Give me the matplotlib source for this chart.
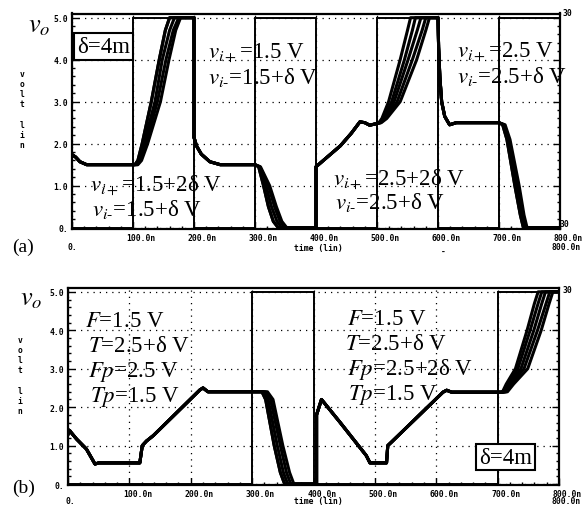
import matplotlib.pyplot as plt
from matplotlib.ticker import MultipleLocator

plt.rcParams['font.family'] = ['Liberation Serif', 'DejaVu Serif']
plt.rcParams['mathtext.fontset'] = 'stix'

W, H = 587, 510
MONO = dict(family='DejaVu Sans Mono', weight='bold', size=5.8)

# square-wave input, edges in ns and levels in V
sq_a_edges = [0, 100, 200, 300, 400, 500, 600, 700, 800]
sq_a_levels = [0, 5, 0, 5, 0, 5, 0, 5]
sq_b_edges = [0, 300, 400, 700, 800]
sq_b_levels = [0, 5, 0, 5]

# panel (a) output: held parts shared by all runs, transitions one row per run
a_hold0_t = [0, 6, 13, 24, 60, 100]
a_hold0_v = [1.74, 1.68, 1.57, 1.5, 1.5, 1.5]
a_rise1_v = [1.5, 1.6, 2.0, 3.0, 4.0, 4.7, 5.0]
a_rise1_t = [[103, 108, 115, 130, 143, 153, 160],
             [105, 110, 118, 136, 148, 160, 168],
             [107, 112, 121, 140, 154, 166, 175],
             [108, 114, 124, 145, 159, 170, 178]]
a_hold1_t = [200, 200, 204, 212, 226, 243, 300]
a_hold1_v = [5.0, 2.15, 1.95, 1.75, 1.57, 1.5, 1.5]
a_fall1_v = [1.45, 1.0, 0.5, 0.15, 0.0]
a_fall1_t = [[306, 314, 322, 330, 338],
             [307, 318, 327, 336, 344],
             [308, 322, 332, 341, 350],
             [309, 324, 335, 344, 352]]
a_hold2_t = [400, 400, 420, 440, 458, 472, 480, 488, 500]
a_hold2_v = [0.0, 1.45, 1.7, 1.95, 2.25, 2.52, 2.5, 2.44, 2.48]
a_rise2_v = [2.5, 2.6, 3.0, 4.0, 4.7, 5.0]
a_rise2_t = [[503, 508, 519, 538, 550, 555],
             [504, 510, 524, 545, 558, 563],
             [505, 512, 528, 551, 566, 572],
             [506, 514, 533, 558, 574, 580],
             [507, 516, 538, 565, 580, 586]]
a_hold3_t = [600, 601, 603, 606, 611, 619, 630, 700]
a_hold3_v = [5.0, 4.3, 3.6, 3.0, 2.65, 2.45, 2.5, 2.5]
a_fall2_v = [2.45, 2.1, 1.0, 0.3, 0.0]
a_fall2_t = [[706, 713, 726, 735, 740],
             [708, 715, 729, 738, 743],
             [710, 718, 733, 741, 746]]
a_end_t = [800]
a_end_v = [0.0]

# panel (b) output
b_hold0_t = [0, 2, 14, 30, 44, 50, 117, 121, 128, 139, 215, 220, 228, 316]
b_hold0_v = [1.3, 1.4, 1.17, 0.91, 0.52, 0.55, 0.55, 1.0, 1.12, 1.26, 2.45, 2.5, 2.4, 2.4]
b_fall_v = [2.4, 2.2, 1.0, 0.3, 0.0]
b_fall_t = [[316, 322, 336, 346, 353],
            [319, 326, 341, 351, 358],
            [322, 330, 346, 356, 363],
            [325, 334, 350, 361, 368]]
b_hold1_t = [405, 405, 413, 443, 486, 492, 519, 521, 527, 611, 617, 625, 708]
b_hold1_v = [0.0, 1.8, 2.2, 1.61, 0.74, 0.55, 0.55, 1.0, 1.09, 2.39, 2.44, 2.39, 2.39]
b_rise_v = [2.4, 2.6, 3.0, 4.0, 4.7, 5.0]
b_rise_t = [[708, 714, 729, 748, 760, 766],
            [710, 716, 733, 753, 766, 772],
            [712, 719, 738, 759, 772, 778],
            [714, 722, 743, 765, 779, 785],
            [716, 726, 749, 771, 784, 790]]
b_end_t = [800]
b_end_v = [5.0]

n_runs = 5

parts_a = [(a_hold0_t, a_hold0_v), (a_rise1_t, a_rise1_v), (a_hold1_t, a_hold1_v),
           (a_fall1_t, a_fall1_v), (a_hold2_t, a_hold2_v), (a_rise2_t, a_rise2_v),
           (a_hold3_t, a_hold3_v), (a_fall2_t, a_fall2_v), (a_end_t, a_end_v)]
parts_b = [(b_hold0_t, b_hold0_v), (b_fall_t, b_fall_v), (b_hold1_t, b_hold1_v),
           (b_rise_t, b_rise_v), (b_end_t, b_end_v)]


def run(parts, k):
    t, v = [], []
    for pt, pv in parts:
        if isinstance(pt[0], list):
            pt = pt[k % len(pt)]
        t += pt
        v += pv
    return t, v


def style(ax):
    ax.set_xlim(0, 800)
    ax.set_ylim(-0.02, 5.1)
    ax.xaxis.set_major_locator(MultipleLocator(100))
    ax.xaxis.set_minor_locator(MultipleLocator(20))
    ax.yaxis.set_major_locator(MultipleLocator(1))
    ax.yaxis.set_minor_locator(MultipleLocator(0.2))
    ax.tick_params(which='both', direction='in', left=True, right=True,
                   top=False, bottom=True, width=1, labelbottom=False, pad=3)
    ax.tick_params(which='major', length=5)
    ax.tick_params(which='minor', length=2.5)
    ax.set_yticks([0, 1, 2, 3, 4, 5])
    ax.set_yticklabels(['0.', '1.0', '2.0', '3.0', '4.0', '5.0'], **MONO)
    ax.grid(True, which='major', color='black', linestyle=(0, (1, 4)), lw=0.9)
    for s in ax.spines.values():
        s.set_linewidth(1.6)
    for t in range(100, 900, 100):
        ax.annotate(f'{t}.0n', xy=(t, 0), xycoords=('data', 'axes fraction'),
                    xytext=(6, -3), textcoords='offset points',
                    ha='center', va='top', **MONO)


def px(x, y):
    return x / W, 1 - y / H


fig = plt.figure(figsize=(W / 100, H / 100), dpi=100)
ax_a = fig.add_axes([72 / W, 1 - 229.5 / H, 488 / W, 215 / H])
ax_b = fig.add_axes([68 / W, 1 - 485.8 / H, 491 / W, 196.8 / H])

for ax, edges, levels, parts in [(ax_a, sq_a_edges, sq_a_levels, parts_a),
                                 (ax_b, sq_b_edges, sq_b_levels, parts_b)]:
    style(ax)
    ax.stairs(levels, edges, baseline=None, color='black', lw=1.4)
    for k in range(n_runs):
        t, v = run(parts, k)
        ax.plot(t, v, color='black', lw=2.2, solid_joinstyle='round')

fs = 16.5
box = dict(boxstyle='square,pad=0.12', fc='white', ec='black', lw=1.5)
vp = r'$v_{i+}$'
vm = r'$v_{i\text{-}}$'

# panel (a) annotations
ax_a.text(52, 4.32, 'δ=4m', fontsize=fs, ha='center', va='center', bbox=box)
ax_a.text(223, 4.04, vp + '=1.5 V', fontsize=fs)
ax_a.text(223, 3.45, vm + '=1.5+δ V', fontsize=fs)
ax_a.text(30, 0.87, vp + '=1.5+2δ V', fontsize=fs)
ax_a.text(33, 0.3, vm + '=1.5+δ V', fontsize=fs)
ax_a.text(428, 1.02, vp + '=2.5+2δ V', fontsize=fs)
ax_a.text(431, 0.48, vm + '=2.5+δ V', fontsize=fs)
ax_a.text(631, 4.06, vp + '=2.5 V', fontsize=fs)
ax_a.text(631, 3.48, vm + '=2.5+δ V', fontsize=fs)

# panel (b) annotations
ax_b.text(28, 4.12, r'$F$=1.5 V', fontsize=fs)
ax_b.text(33, 3.47, r'$T$=2.5+δ V', fontsize=fs)
ax_b.text(33, 2.82, r'$Fp$=2.5 V', fontsize=fs)
ax_b.text(36, 2.16, r'$Tp$=1.5 V', fontsize=fs)
ax_b.text(454, 4.17, r'$F$=1.5 V', fontsize=fs)
ax_b.text(451, 3.52, r'$T$=2.5+δ V', fontsize=fs)
ax_b.text(454, 2.86, r'$Fp$=2.5+2δ V', fontsize=fs)
ax_b.text(456, 2.21, r'$Tp$=1.5 V', fontsize=fs)
ax_b.text(713, 0.7, 'δ=4m', fontsize=fs, ha='center', va='center', bbox=box)

# labels outside the axes
vlab = 'v\no\nl\nt\n\nl\ni\nn'
for (x, yv), (xo, yo), (xp, yp), lab, ybot in [((22, 110), (28, 32), (12, 252), '(a)', 248),
                                               ((20, 376), (20, 305), (12, 493), '(b)', 502)]:
    fig.text(*px(x, yv), vlab, ha='center', va='center', linespacing=1.15, **MONO)
    fig.text(*px(xo, yo), r'$v_o$', fontsize=19, ha='left', va='baseline')
    fig.text(*px(xp, yp), lab, fontsize=14, ha='left', va='baseline')
    fig.text(*px(318, ybot), 'time (lin)', ha='center', va='center', **MONO)
    fig.text(*px(566, ybot), '800.0n', ha='center', va='center', **MONO)

fig.text(*px(72, 248), '0.', ha='center', va='center', **MONO)
fig.text(*px(70, 502), '0.', ha='center', va='center', **MONO)
fig.text(*px(443, 252), '-', ha='center', va='center', **MONO)
fig.text(*px(567, 13), '30', ha='center', va='center', **MONO)
fig.text(*px(564, 225), '30', ha='center', va='center', **MONO)
fig.text(*px(567, 291), '30', ha='center', va='center', **MONO)

fig.savefig('out.png', dpi=100)
